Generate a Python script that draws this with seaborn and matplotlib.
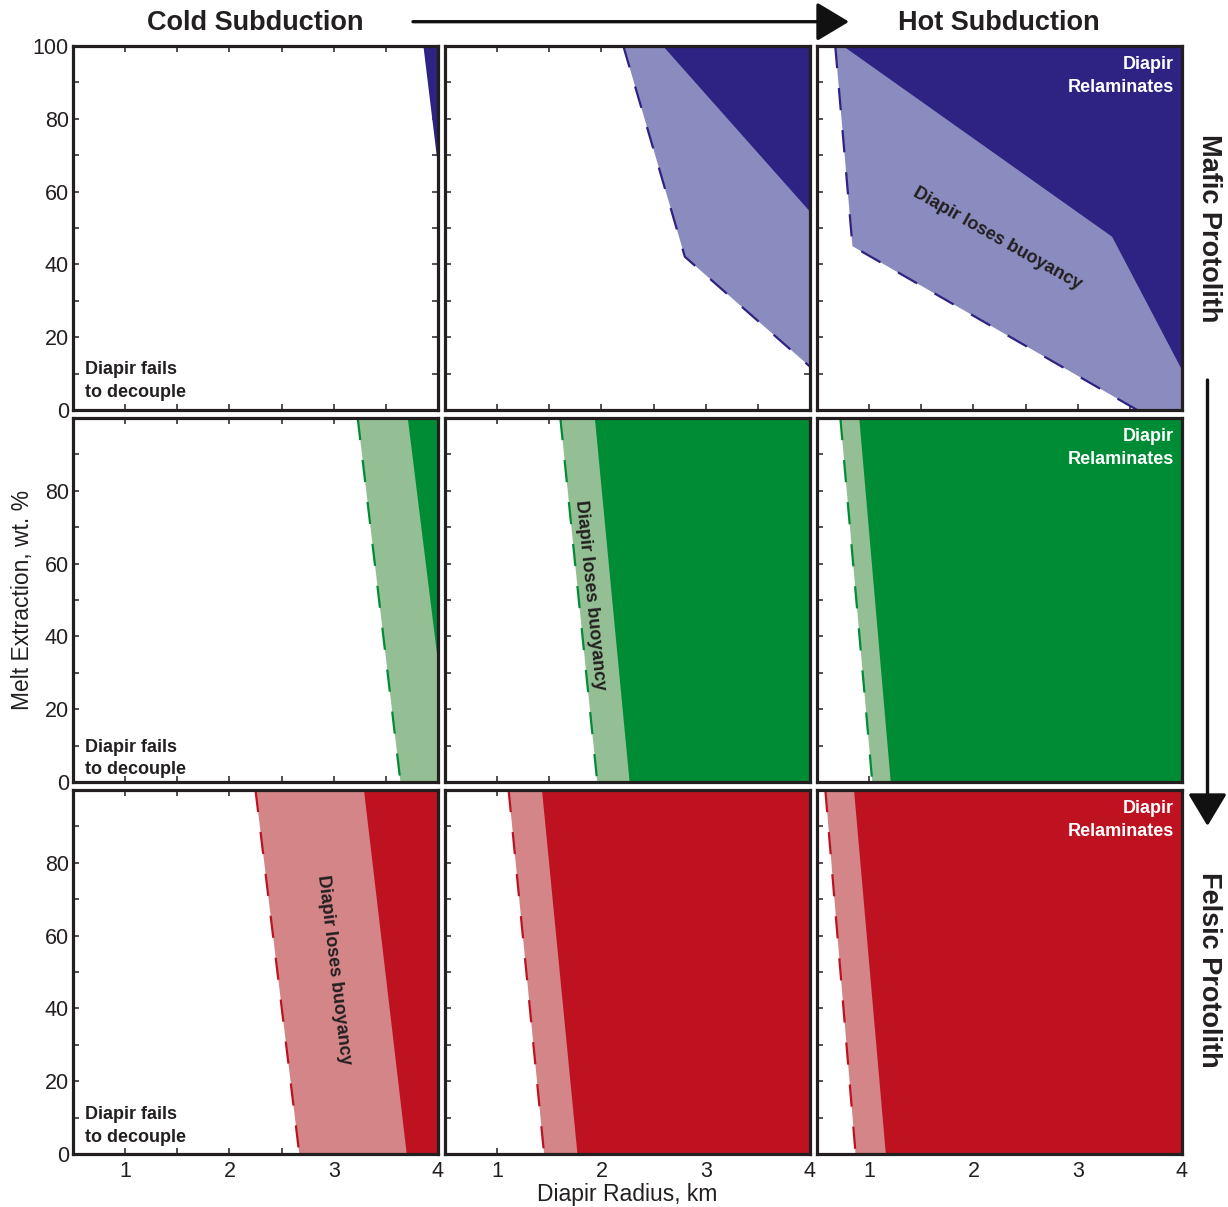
import matplotlib
matplotlib.use("Agg")
import matplotlib.pyplot as plt
import seaborn as sns
from matplotlib.ticker import MultipleLocator, FixedLocator

sns.set_theme(style="white")
plt.rcParams['font.family'] = ['Liberation Sans', 'DejaVu Sans']

# ---------------- data ----------------
col_titles = ["Cold Subduction", "Hot Subduction"]
row_titles = ["Mafic Protolith", "Felsic Protolith"]
x_label = "Diapir Radius, km"
y_label = "Melt Extraction, wt. %"
x_tick_labels = ["1", "2", "3", "4"]
y_tick_labels = ["0", "20", "40", "60", "80", "100"]

# dashed boundary: diapir decouples (light region to the right)
# solid boundary: diapir relaminates (dark region to the right)
mafic_cold_dec_x, mafic_cold_dec_y = [], []
mafic_cold_rel_x, mafic_cold_rel_y = [3.86, 4.0], [100, 67]
mafic_mid_dec_x, mafic_mid_dec_y = [2.21, 2.80, 4.0], [100, 42.1, 11.9]
mafic_mid_rel_x, mafic_mid_rel_y = [2.59, 4.0], [100, 54.5]
mafic_hot_dec_x, mafic_hot_dec_y = [0.675, 0.84, 3.57], [100, 45, 0]
mafic_hot_rel_x, mafic_hot_rel_y = [0.75, 3.33, 4.0], [100, 47.6, 11]

inter_cold_dec_x, inter_cold_dec_y = [3.23, 3.64], [100, 0]
inter_cold_rel_x, inter_cold_rel_y = [3.71, 4.0], [100, 33]
inter_mid_dec_x, inter_mid_dec_y = [1.606, 1.96], [100, 0]
inter_mid_rel_x, inter_mid_rel_y = [1.937, 2.27], [100, 0]
inter_hot_dec_x, inter_hot_dec_y = [0.724, 1.03], [100, 0]
inter_hot_rel_x, inter_hot_rel_y = [0.905, 1.207], [100, 0]

felsic_cold_dec_x, felsic_cold_dec_y = [2.25, 2.67], [100, 0]
felsic_cold_rel_x, felsic_cold_rel_y = [3.29, 3.70], [100, 0]
felsic_mid_dec_x, felsic_mid_dec_y = [1.11, 1.45], [100, 0]
felsic_mid_rel_x, felsic_mid_rel_y = [1.43, 1.77], [100, 0]
felsic_hot_dec_x, felsic_hot_dec_y = [0.58, 0.87], [100, 0]
felsic_hot_rel_x, felsic_hot_rel_y = [0.855, 1.16], [100, 0]

panels = [
    [(mafic_cold_dec_x, mafic_cold_dec_y, mafic_cold_rel_x, mafic_cold_rel_y),
     (mafic_mid_dec_x, mafic_mid_dec_y, mafic_mid_rel_x, mafic_mid_rel_y),
     (mafic_hot_dec_x, mafic_hot_dec_y, mafic_hot_rel_x, mafic_hot_rel_y)],
    [(inter_cold_dec_x, inter_cold_dec_y, inter_cold_rel_x, inter_cold_rel_y),
     (inter_mid_dec_x, inter_mid_dec_y, inter_mid_rel_x, inter_mid_rel_y),
     (inter_hot_dec_x, inter_hot_dec_y, inter_hot_rel_x, inter_hot_rel_y)],
    [(felsic_cold_dec_x, felsic_cold_dec_y, felsic_cold_rel_x, felsic_cold_rel_y),
     (felsic_mid_dec_x, felsic_mid_dec_y, felsic_mid_rel_x, felsic_mid_rel_y),
     (felsic_hot_dec_x, felsic_hot_dec_y, felsic_hot_rel_x, felsic_hot_rel_y)],
]

dark_colors = ["#2e2283", "#008c35", "#be1220"]
light_colors = ["#8a8bbf", "#94bf94", "#d48588"]
ink = "#231f20"

XMIN, XMAX, YMIN, YMAX = 0.5, 4.0, 0.0, 100.0

# "Diapir loses buoyancy" label placements (row, col, x, y, rotation)
buoy_labels = [(0, 2, 2.23, 47.0, -29.5), (1, 1, 1.89, 51.4, -84.2), (2, 0, 3.0, 50.7, -83.1)]
fail_y = [8.0, 6.5, 7.7]

# ---------------- layout ----------------
W, H = 1228, 1207
fig = plt.figure(figsize=(W / 100, H / 100), dpi=100)
col_left = [73, 445, 817]
row_top = [46, 418, 790]
pw, ph = 365, 364


def region(bx, by):
    if by[-1] == YMIN:
        pts = list(zip(bx, by)) + [(XMAX, YMIN), (XMAX, YMAX)]
    else:
        pts = list(zip(bx, by)) + [(XMAX, by[-1]), (XMAX, YMAX)]
    return [p[0] for p in pts], [p[1] for p in pts]


axes = []
for r in range(3):
    for c in range(3):
        ax = fig.add_axes([col_left[c] / W, 1 - (row_top[r] + ph) / H, pw / W, ph / H])
        ax.set_facecolor("white")
        dx, dy, rx, ry = panels[r][c]
        if dx:
            xs, ys = region(dx, dy)
            ax.fill(xs, ys, color=light_colors[r], lw=0, zorder=1)
        if rx:
            xs, ys = region(rx, ry)
            ax.fill(xs, ys, color=dark_colors[r], lw=0, zorder=1.1)
        if dx:
            sns.lineplot(x=dx, y=dy, sort=False, estimator=None, ax=ax,
                         color=dark_colors[r], lw=1.6, zorder=2)
            ln = ax.lines[-1]
            ln.set_dashes((10, 9))
        ax.set_xlim(XMIN, XMAX)
        ax.set_ylim(YMIN, YMAX)
        ax.xaxis.set_major_locator(FixedLocator([1, 2, 3, 4]))
        ax.xaxis.set_minor_locator(MultipleLocator(0.5))
        ax.yaxis.set_major_locator(FixedLocator([0, 20, 40, 60, 80, 100]))
        ax.yaxis.set_minor_locator(MultipleLocator(10))
        ax.tick_params(which="both", direction="in", top=True, right=True,
                       bottom=True, left=True, length=4.5, width=1.1, color=ink,
                       labelsize=15.5, labelcolor=ink)
        ax.tick_params(axis="y", pad=3)
        ax.tick_params(axis="x", pad=5)
        if r == 2:
            ax.set_xticklabels(x_tick_labels)
        else:
            ax.set_xticklabels([])
        if c == 0:
            labs = list(y_tick_labels)
            if r > 0:
                labs[-1] = ""
            ax.set_yticklabels(labs)
        else:
            ax.set_yticklabels([])
        ax.set_xlabel("")
        ax.set_ylabel("")
        for s in ax.spines.values():
            s.set_visible(True)
            s.set_color(ink)
            s.set_linewidth(2.3)
            s.set_zorder(3)
        if c == 0:
            ax.text(0.615, fail_y[r], "Diapir fails\nto decouple", ha="left", va="center",
                    fontsize=13, fontweight="bold", color=ink, linespacing=1.42)
        if c == 2:
            ax.text(3.925, 91.8, "Diapir\nRelaminates", ha="right", va="center",
                    fontsize=13, fontweight="bold", color="white", linespacing=1.42,
                    multialignment="right")
        axes.append(ax)

for (r, c, x, y, rot) in buoy_labels:
    axes[r * 3 + c].text(x, y, "Diapir loses buoyancy", ha="center", va="center",
                         rotation=rot, rotation_mode="anchor", fontsize=13,
                         fontweight="bold", color=ink, zorder=4)

# ---------------- outer labels ----------------
def fp(x, y):
    return x / W, 1 - y / H

fig.text(*fp(255, 23), col_titles[0], ha="center", va="center", fontsize=19.5,
         fontweight="bold", color=ink)
fig.text(*fp(999, 23), col_titles[1], ha="center", va="center", fontsize=19.5,
         fontweight="bold", color=ink)
fig.text(*fp(1209, 228), row_titles[0], ha="center", va="center", fontsize=19.5,
         fontweight="bold", color=ink, rotation=-90)
fig.text(*fp(1209, 970), row_titles[1], ha="center", va="center", fontsize=19.5,
         fontweight="bold", color=ink, rotation=-90)
fig.text(*fp(23, 600), y_label, ha="center", va="center", fontsize=16.5,
         color=ink, rotation=90)
fig.text(*fp(627, 1194), x_label, ha="center", va="center", fontsize=16.5, color=ink)

arrow_kw = dict(arrowstyle="-|>,head_length=1.0,head_width=0.6", mutation_scale=20,
                lw=2.4, color="#111111", shrinkA=0, shrinkB=0)
axes[0].annotate("", xy=(849, H - 21.7), xycoords="figure pixels",
                 xytext=(413, H - 21.7), textcoords="figure pixels",
                 arrowprops=arrow_kw, annotation_clip=False)
axes[0].annotate("", xy=(1207.5, H - 826), xycoords="figure pixels",
                 xytext=(1207.5, H - 380), textcoords="figure pixels",
                 arrowprops=arrow_kw, annotation_clip=False)

fig.savefig("out.png", dpi=100)
